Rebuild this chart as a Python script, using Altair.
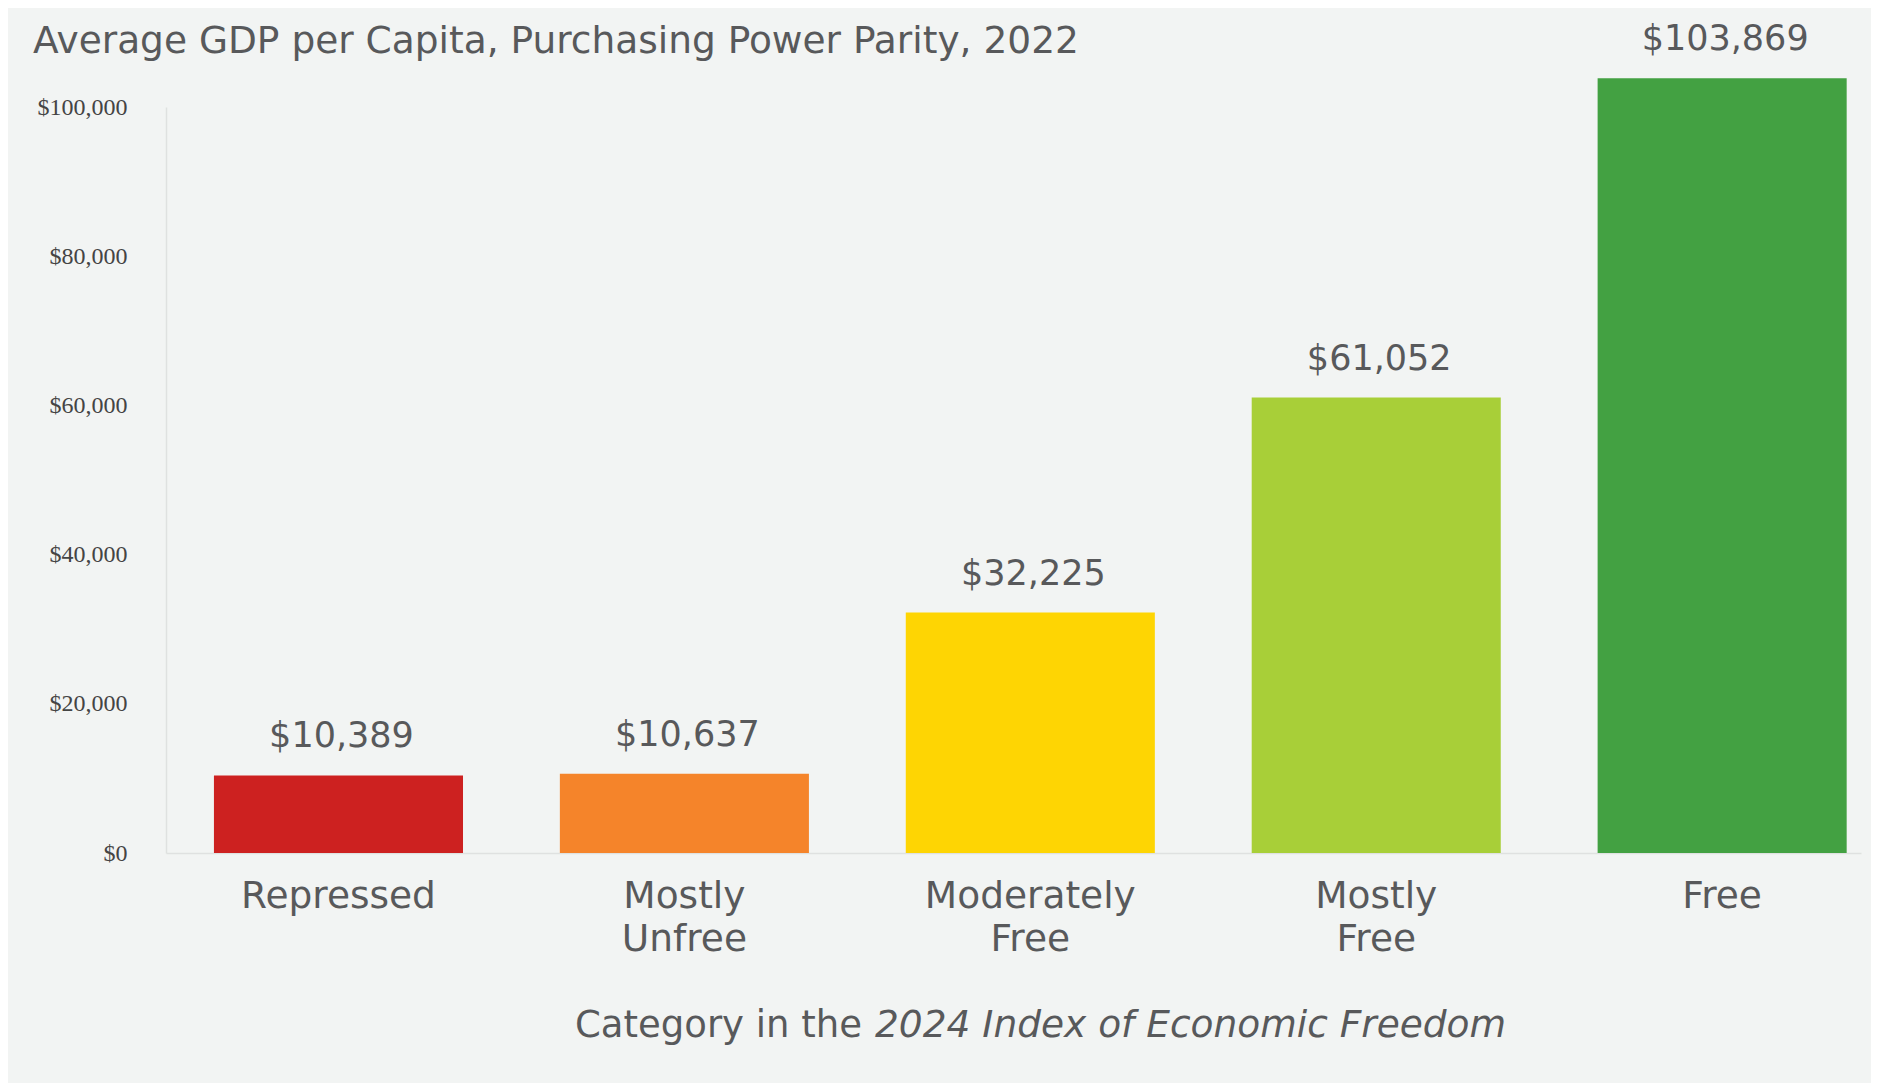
import altair as alt
import pandas as pd

categories = ["Repressed", "Mostly Unfree", "Moderately Free", "Mostly Free", "Free"]
gdp_values = [10389, 10637, 32225, 61052, 103869]
bar_colors = ["#cd2120", "#f5842a", "#fed503", "#a8cf38", "#43a142"]
y_ticks = [0, 20000, 40000, 60000, 80000, 100000]

title_text = ["Average GDP per Capita, Purchasing Power Parity, 2022"]
xtitle_plain = ["Category in the"]
xtitle_italic = ["2024 Index of Economic Freedom"]

TEXT = "#58595b"
FONT = "DejaVu Sans"

df = pd.DataFrame({"category": categories, "gdp": gdp_values})

W, H = 1695, 746

xscale = alt.Scale(domain=categories, paddingInner=0.28, paddingOuter=0.09, align=0.77)
yscale = alt.Scale(domain=[0, 100000], nice=False, zero=True)

base = alt.Chart(df)

bars = base.mark_bar().encode(
    x=alt.X("category:N", scale=xscale, sort=categories,
            axis=alt.Axis(title=None, labelAngle=0, ticks=False, labelLimit=0,
                          labelExpr="split(datum.label, ' ')",
                          labelFont=FONT, labelFontSize=37.5, labelColor=TEXT,
                          labelPadding=24, labelLineHeight=43,
                          domainColor="#dfe1e0", domainWidth=1.5)),
    y=alt.Y("gdp:Q", scale=yscale,
            axis=alt.Axis(title=None, values=y_ticks, ticks=False, grid=False,
                          labelExpr='"$" + format(datum.value, ",")',
                          labelFont="Liberation Serif", labelFontSize=24,
                          labelColor="#444444", labelPadding=39,
                          domainColor="#dfe1e0", domainWidth=1.5)),
    color=alt.Color("category:N", scale=alt.Scale(domain=categories, range=bar_colors), legend=None),
)

labels = base.mark_text(font=FONT, fontSize=35, color=TEXT, baseline="alphabetic", dy=-28, dx=3).encode(
    x=alt.X("category:N", scale=xscale, sort=categories),
    y=alt.Y("gdp:Q", scale=yscale),
    text=alt.Text("gdp:Q", format="$,"),
)

title_mark = alt.Chart(pd.DataFrame({"t": title_text})).mark_text(
    font=FONT, fontSize=37.5, color=TEXT, align="left", baseline="alphabetic"
).encode(x=alt.value(-133), y=alt.value(-54), text="t:N")

xt_plain = alt.Chart(pd.DataFrame({"t": xtitle_plain})).mark_text(
    font=FONT, fontSize=37, color=TEXT, align="right", baseline="alphabetic"
).encode(x=alt.value(696), y=alt.value(930), text="t:N")

xt_italic = alt.Chart(pd.DataFrame({"t": xtitle_italic})).mark_text(
    font=FONT, fontSize=37.5, color=TEXT, align="left", baseline="alphabetic", fontStyle="italic"
).encode(x=alt.value(709), y=alt.value(930), text="t:N")

chart = alt.layer(bars, labels, title_mark, xt_plain, xt_italic).properties(
    width=W, height=H,
    autosize=alt.AutoSizeParams(type="none"),
    padding={"left": 158, "top": 99, "right": 10, "bottom": 230},
).configure(background="#f2f4f3").configure_view(stroke=None)

chart.save("out.html", embed_options={"renderer": "svg", "actions": False})
